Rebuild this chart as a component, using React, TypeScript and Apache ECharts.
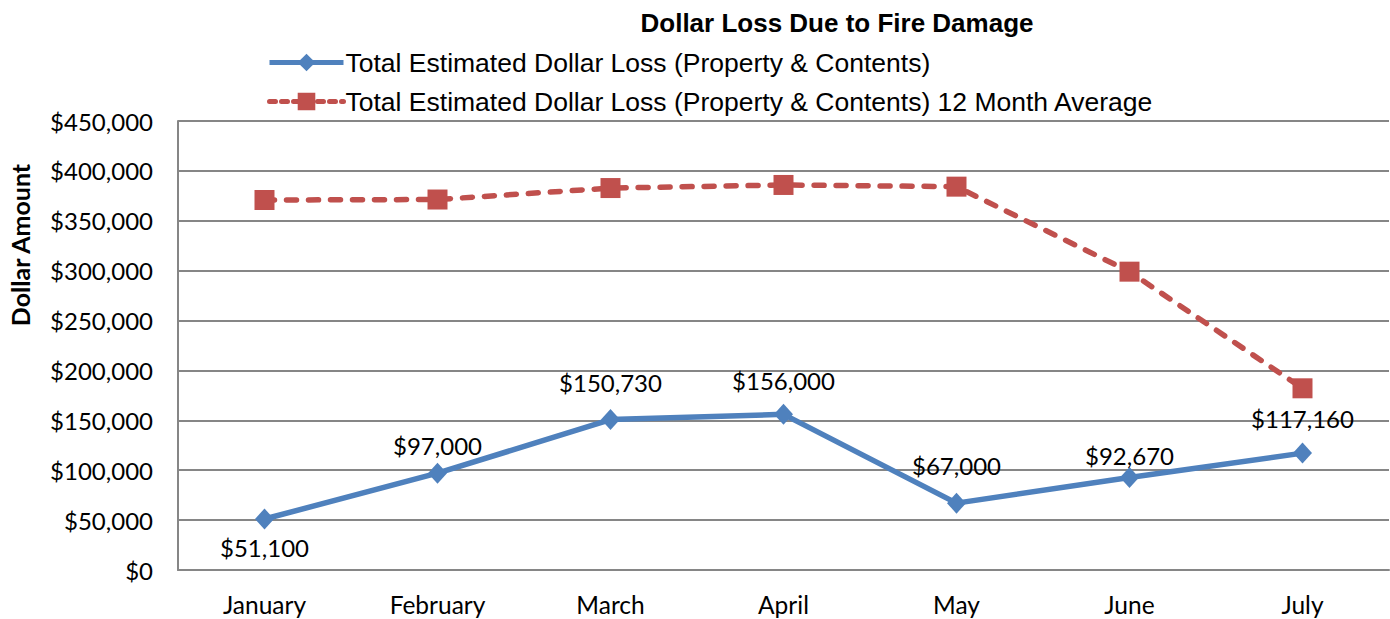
import React, { useEffect, useRef } from "react";
import * as echarts from "echarts";

const months = ["January", "February", "March", "April", "May", "June", "July"];
const totalLoss = [51100, 97000, 150730, 156000, 67000, 92670, 117160];
const avgLoss = [370800, 371300, 382800, 385900, 384200, 299000, 182100];
const yTicks = { min: 0, max: 450000, interval: 50000 };
const seriesNames = [
  "Total Estimated Dollar Loss (Property & Contents)",
  "Total Estimated Dollar Loss (Property & Contents) 12 Month Average",
];

// label placement (styling, not data)
const labelPos = ["bottom", "top", "top", "top", "top", "top", "top"];
const labelDist = [6, 5, 15, 11, 15, 0, 12];

const BLUE = "#4F81BD";
const RED = "#C0504D";
const CAL = "Lato, 'Open Sans', sans-serif";
const ARIAL = "'Liberation Sans', Arial, sans-serif";

const fmt = (v: number) => "$" + v.toLocaleString("en-US");

export default function App() {
  const ref = useRef<HTMLDivElement>(null);
  useEffect(() => {
    if (!ref.current) return;
    const chart = echarts.init(ref.current, undefined, { renderer: "svg" });
    chart.setOption({
      animation: false,
      backgroundColor: "#ffffff",
      title: {
        text: "Dollar Loss Due to Fire Damage",
        left: 832,
        top: 5,
        textAlign: "center",
        textStyle: { fontFamily: ARIAL, fontWeight: "bold", fontSize: 26, color: "#000" },
      },
      legend: {
        orient: "vertical",
        left: 262,
        top: 44,
        itemWidth: 74,
        itemHeight: 22,
        itemGap: 12,
        textStyle: { fontFamily: ARIAL, fontSize: 26.5, color: "#000", padding: [0, 0, 0, -3] },
        data: [
          { name: seriesNames[0], lineStyle: { width: 5 } },
          { name: seriesNames[1], lineStyle: { width: 5, type: [6, 6] } },
        ],
      },
      grid: { left: 178, right: 1, top: 121, bottom: 49, containLabel: false },
      xAxis: {
        type: "category",
        data: months,
        boundaryGap: true,
        axisLine: { lineStyle: { color: "#868686", width: 2 } },
        axisTick: { show: false },
        axisLabel: { fontFamily: CAL, fontSize: 24.5, color: "#000", margin: 22 },
      },
      yAxis: {
        type: "value",
        min: yTicks.min,
        max: yTicks.max,
        interval: yTicks.interval,
        axisLine: { show: true, lineStyle: { color: "#868686", width: 2 } },
        axisTick: { show: false },
        splitLine: { lineStyle: { color: "#868686", width: 2 } },
        axisLabel: { fontFamily: CAL, fontSize: 24, color: "#000", margin: 25, formatter: (v: number) => fmt(v) },
      },
      graphic: [
        {
          type: "text",
          x: 20,
          y: 245,
          rotation: Math.PI / 2,
          style: {
            text: "Dollar Amount",
            fontFamily: CAL,
            fontWeight: "bold",
            fontSize: 25,
            fill: "#000",
            align: "center",
            verticalAlign: "middle",
          },
        },
      ],
      series: [
        {
          name: seriesNames[0],
          type: "line",
          data: totalLoss.map((v, i) => ({
            value: v,
            label: { position: labelPos[i], distance: labelDist[i] },
          })),
          symbol: "diamond",
          symbolSize: [19, 21],
          itemStyle: { color: BLUE },
          lineStyle: { color: BLUE, width: 5.5 },
          label: {
            show: true,
            fontFamily: CAL,
            fontSize: 24,
            color: "#000",
            formatter: (p: any) => fmt(p.value),
          },
          z: 3,
        },
        {
          name: seriesNames[1],
          type: "line",
          data: avgLoss,
          symbol: "rect",
          symbolSize: 20,
          itemStyle: { color: RED },
          lineStyle: { color: RED, width: 5.5, type: [10, 12], cap: "round" },
          z: 2,
        },
      ],
    });
    return () => chart.dispose();
  }, []);
  return <div ref={ref} style={{ position: "fixed", left: 0, top: 0, width: 1390, height: 619 }} />;
}
